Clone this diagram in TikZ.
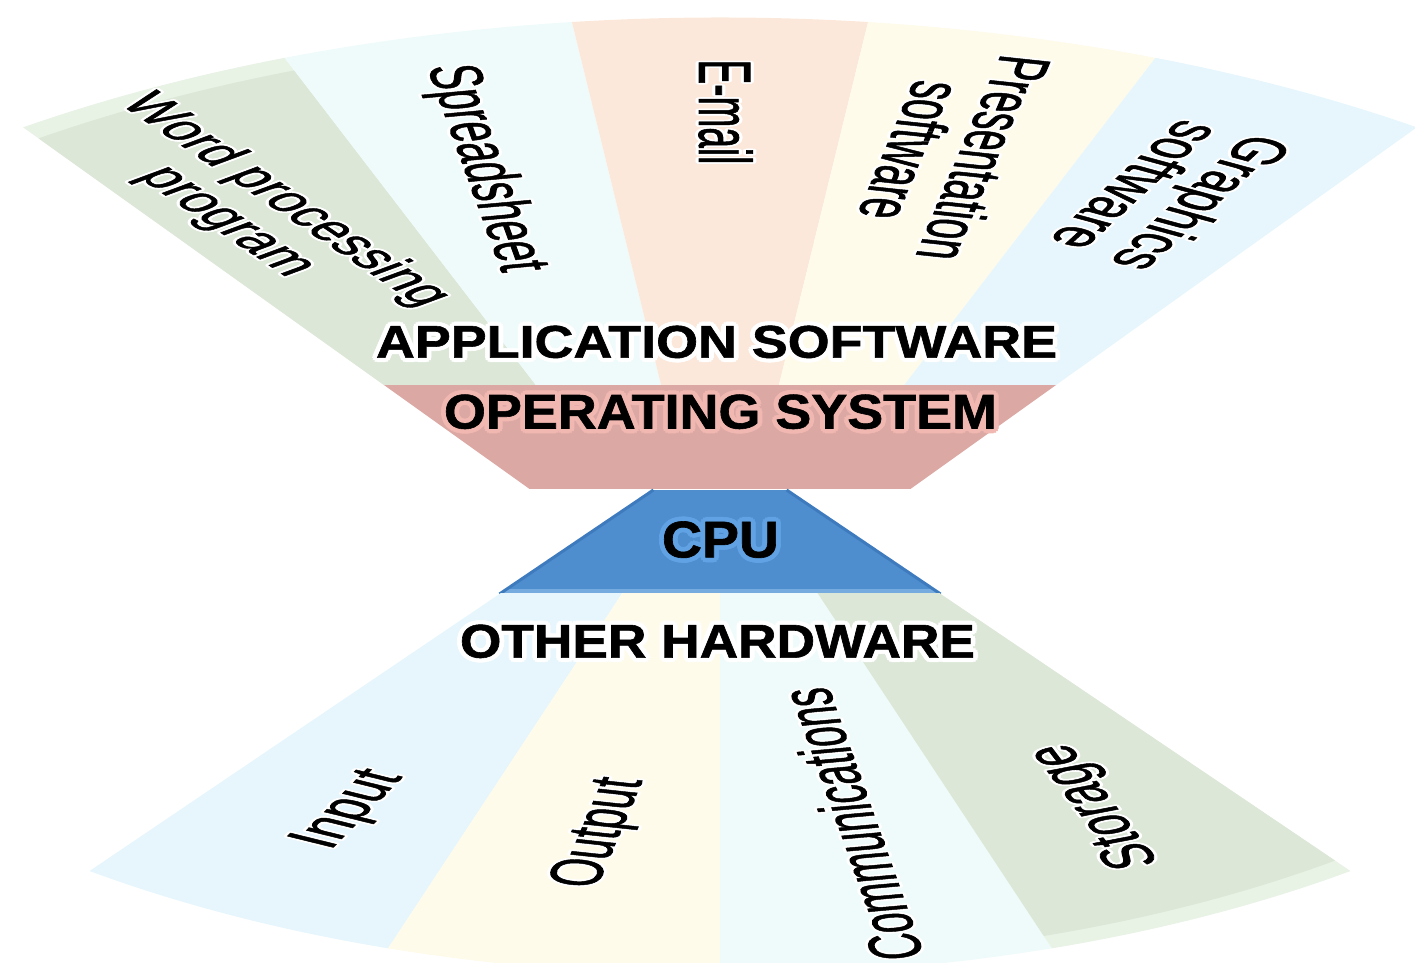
\documentclass[tikz,border=0pt]{standalone}
\usepackage{fontspec}
\usepackage{graphicx}
\usepackage{contour}
\contournumber{12}
\setmainfont{Liberation Sans}
\newfontfamily\lblfont{Liberation Sans}[FakeBold=1.2]
\newfontfamily\headfont{Liberation Sans}[BoldFeatures={FakeBold=1.2}]

% sector colours
\definecolor{cgreen}{HTML}{DCE7D8}
\definecolor{cgreenrim}{HTML}{E8F2E5}
\definecolor{ccyan}{HTML}{EEFBFA}
\definecolor{cpeach}{HTML}{FCE8DA}
\definecolor{ccream}{HTML}{FEFBEB}
\definecolor{cblue}{HTML}{E6F6FC}
\definecolor{osfill}{HTML}{DCA8A4}
\definecolor{oshalo}{HTML}{F1B7B1}
\definecolor{cpufill}{HTML}{4F8ECE}
\definecolor{cpulight}{HTML}{76ABE0}
\definecolor{cpuedge}{HTML}{3E7BBE}
\definecolor{cpuhalo}{HTML}{60A2E4}

% wedge from the fan centre: colour, start angle, end angle, radius
\newcommand\fansector[4]{\fill[#1] (0,0) -- (#2:#4) arc[start angle=#2, end angle=#3, radius=#4] -- cycle;}
% heading text stretched to a given width and height, with a halo
\newcommand\headtext[4]{\resizebox{#1}{#2}{\contour{#3}{#4}}}
% label text with a white halo
\newcommand\lt[1]{\contour{white}{#1}}

\tikzset{
  lbl/.style={inner sep=0pt, align=center, transform shape,
    font={\lblfont\fontsize{37}{37}\selectfont\contourlength{1.6pt}}},
  headlbl/.style={inner sep=0pt,
    font={\headfont\bfseries\fontsize{22}{22}\selectfont\contourlength{2pt}}}
}

\begin{document}
\begin{tikzpicture}[x=0.5pt,y=0.5pt]
\useasboundingbox (0,0) rectangle (1415,963);
\clip (0,0) rectangle (1415,963);

% ---------- upper fan: applications and operating system ----------
\begin{scope}[shift={(720,338)}, yscale=0.5]
  \begin{scope}
    \clip (-1400,480) rectangle (1400,1400);
    \fansector{cgreenrim}{111}{125}{1215}
    \fansector{cgreen}{111}{125}{1188}
    \fansector{ccyan}{97}{111}{1215}
    \fansector{cpeach}{83}{97}{1215}
    \fansector{ccream}{69}{83}{1215}
    \fansector{cblue}{55}{69}{1215}
  \end{scope}
  \begin{scope}
    \clip (0,0) -- (125:1000) -- (55:1000) -- cycle;
    \fill[osfill] (-800,272) rectangle (800,480);
  \end{scope}

  \node[lbl, rotate=-53.5, font={\lblfont\fontsize{34}{36}\selectfont\contourlength{1.6pt}}]
    (wp) at (-466,827) {\lt{Word processing}\\\lt{program}};
  \node[lbl, rotate=-79.7] (ss) at (-238,913) {\lt{Spreadsheet}};
  \node[lbl, rotate=-90] (em) at (4,1026) {\lt{E-mail}};
  \node[lbl, rotate=-102] (pres) at (226.5,942) {\lt{Presentation}\\\lt{software}};
  \node[lbl, rotate=-118.6] (gfx) at (449,861) {\lt{Graphics}\\\lt{software}};
\end{scope}

% ---------- lower fan: CPU and other hardware ----------
\begin{scope}[shift={(720,518)}, yscale=0.5]
  \begin{scope}
    \clip (0,0) -- (-126.5:1000) -- (-53.5:1000) -- cycle;
    \fill[cpufill] (-800,-298) rectangle (800,-90);
    \fill[cpulight] (-800,-298) rectangle (800,-289);
  \end{scope}
  \draw[cpuedge, line width=1.5] (-66.6,-90) -- (-220.5,-298);
  \draw[cpuedge, line width=1.5] (66.6,-90) -- (220.5,-298);
  \begin{scope}
    \clip (-1400,-298) rectangle (1400,-1400);
    \fansector{cblue}{-126.5}{-108.25}{1060}
    \fansector{ccream}{-108.25}{-90}{1060}
    \fansector{ccyan}{-90}{-71.75}{1060}
    \fansector{cgreenrim}{-71.75}{-53.5}{1060}
    \fansector{cgreen}{-71.75}{-53.5}{1034}
  \end{scope}

  \node[lbl, rotate=63.8] (in) at (-368,-730) {\lt{Input}};
  \node[lbl, rotate=77.9] (out) at (-117,-776) {\lt{Output}};
  \node[lbl, rotate=100.1] (comm) at (132,-758) {\lt{Communications}};
  \node[lbl, rotate=110.9] (stor) at (378,-722) {\lt{Storage}};
\end{scope}

% ---------- layer headings ----------
\node[headlbl] (appsw) at (716.5,619)
  {\headtext{340.5pt}{16pt}{white}{APPLICATION SOFTWARE}};
\node[headlbl] (os) at (720.5,549)
  {\headtext{276.5pt}{17pt}{oshalo}{OPERATING SYSTEM}};
\node[headlbl] (cpu) at (720.5,421)
  {\headtext{58.5pt}{18pt}{cpuhalo}{CPU}};
\node[headlbl] (hw) at (717.5,319.5)
  {\headtext{257.5pt}{16.5pt}{white}{OTHER HARDWARE}};
\end{tikzpicture}
\end{document}
